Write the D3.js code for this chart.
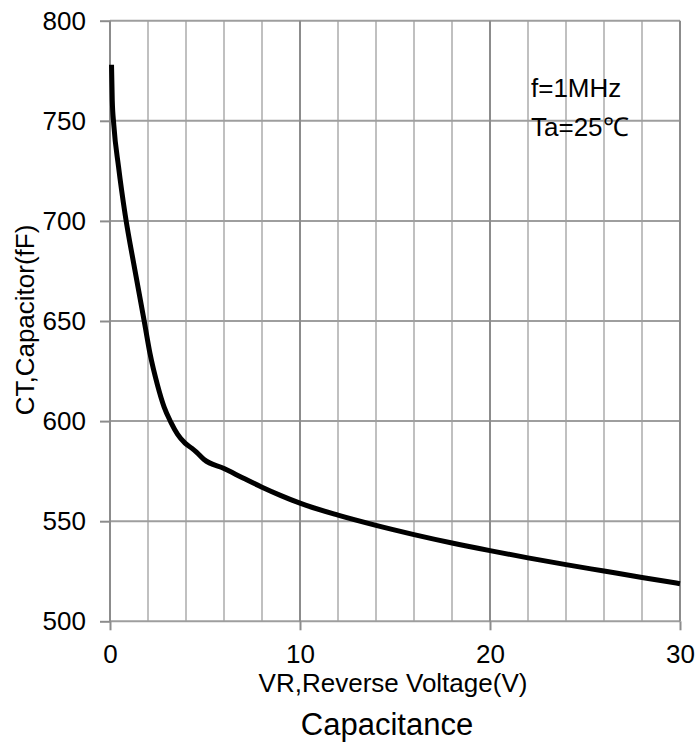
<!DOCTYPE html>
<html>
<head>
<meta charset="utf-8">
<script src="https://cdn.jsdelivr.net/npm/d3@7"></script>
<style>
  html, body { margin: 0; padding: 0; background: #fff; }
  svg { display: block; font-family: "Liberation Sans", Arial, sans-serif; }
</style>
</head>
<body>
<svg id="chart" width="697" height="745"></svg>
<script>
// Reverse voltage (V) and capacitance (fF)
const voltage = [0.08, 0.12, 0.2, 0.45, 0.8, 1.3, 1.8, 2.1, 2.5, 2.85, 3.2, 3.55, 3.95, 4.3, 4.55, 4.95, 6, 7, 8, 9, 10, 12, 14, 16, 18, 20, 22, 24, 26, 28, 30];
const capacitance = [778, 760, 748, 727, 703, 676, 650, 634, 618, 607, 599.5, 593.5, 589, 586.5, 584.5, 580.8, 576.3, 571.6, 567, 562.8, 559, 553, 547.9, 543.3, 539.1, 535.3, 531.7, 528.3, 525.1, 521.9, 518.8];

const xTicks = [0, 10, 20, 30];
const yTicks = [500, 550, 600, 650, 700, 750, 800];
const xMinorGrid = [2, 4, 6, 8, 12, 14, 16, 18, 22, 24, 26, 28];

const titleText = "Capacitance";
const xLabel = "VR,Reverse Voltage(V)";
const yLabel = "CT,Capacitor(fF)";
const notes = ["f=1MHz", "Ta=25\u2103"];

const svg = d3.select("#chart");
const pLeft = 110, pRight = 680, pTop = 20.7, pBottom = 621.3;

const x = d3.scaleLinear().domain([0, 30]).range([pLeft, pRight]);
const y = d3.scaleLinear().domain([500, 800]).range([pBottom, pTop]);

const grid = svg.append("g");
grid.selectAll("line.minor").data(xMinorGrid).join("line").attr("class", "minor")
  .attr("x1", d => x(d)).attr("x2", d => x(d))
  .attr("y1", pTop).attr("y2", pBottom)
  .attr("stroke", "#c0c0c0").attr("stroke-width", 2);
grid.selectAll("line.h").data(yTicks).join("line").attr("class", "h")
  .attr("x1", pLeft).attr("x2", pRight)
  .attr("y1", d => y(d)).attr("y2", d => y(d))
  .attr("stroke", "#9e9e9e").attr("stroke-width", 2);
grid.selectAll("line.major").data(xTicks).join("line").attr("class", "major")
  .attr("x1", d => x(d)).attr("x2", d => x(d))
  .attr("y1", pTop).attr("y2", pBottom)
  .attr("stroke", "#8c8c8c").attr("stroke-width", 2);

const xAxis = svg.append("g").attr("transform", `translate(0,${pBottom})`)
  .call(d3.axisBottom(x).tickValues(xTicks).tickSize(9).tickPadding(14).tickFormat(d3.format("d")));
const yAxis = svg.append("g").attr("transform", `translate(${pLeft},0)`)
  .call(d3.axisLeft(y).tickValues(yTicks).tickSize(10).tickPadding(14).tickFormat(d3.format("d")));
[xAxis, yAxis].forEach(a => {
  a.select(".domain").remove();
  a.selectAll(".tick line").attr("stroke", "#8c8c8c").attr("stroke-width", 2);
  a.selectAll(".tick text").attr("font-size", 26).attr("fill", "#000")
    .attr("font-family", "'Liberation Sans', Arial, sans-serif");
});

const pts = voltage.map((v, i) => [v, capacitance[i]]);
const line = d3.line().x(d => x(d[0])).y(d => y(d[1])).curve(d3.curveMonotoneX);
svg.append("path").datum(pts).attr("d", line)
  .attr("fill", "none").attr("stroke", "#000").attr("stroke-width", 5)
  .attr("stroke-linejoin", "round");

svg.selectAll("text.note").data(notes).join("text").attr("class", "note")
  .attr("x", 531).attr("y", (d, i) => 97 + i * 39)
  .attr("font-size", 26).attr("fill", "#000").text(d => d);

svg.append("text").attr("x", 393).attr("y", 692).attr("text-anchor", "middle")
  .attr("font-size", 26).attr("fill", "#000").text(xLabel);
svg.append("text").attr("transform", "translate(34,320) rotate(-90)").attr("text-anchor", "middle")
  .attr("font-size", 26).attr("fill", "#000").text(yLabel);
svg.append("text").attr("x", 387).attr("y", 735).attr("text-anchor", "middle")
  .attr("font-size", 31).attr("fill", "#000").text(titleText);
</script>
</body>
</html>
